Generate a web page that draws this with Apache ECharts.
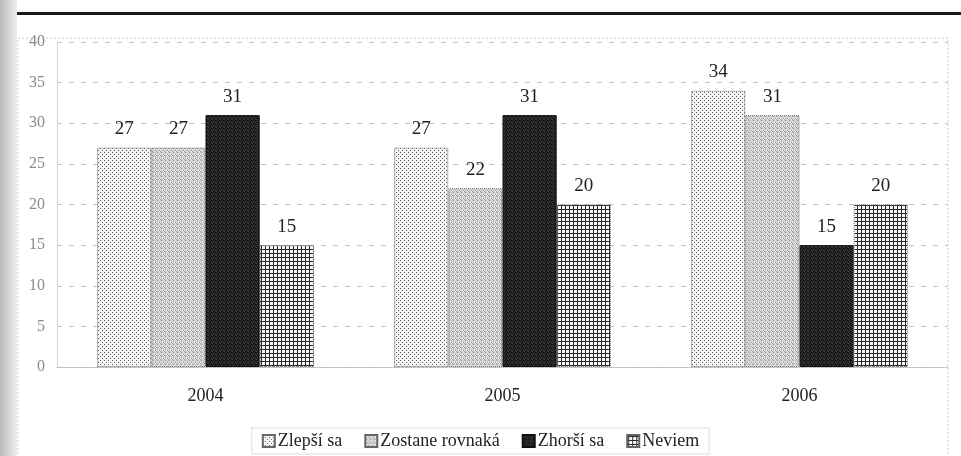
<!DOCTYPE html>
<html>
<head>
<meta charset="utf-8">
<script src="https://cdn.jsdelivr.net/npm/echarts@6/dist/echarts.min.js"></script>
<style>
  html, body { margin: 0; padding: 0; background: #fff; }
  #chart { width: 961px; height: 456px; }
</style>
</head>
<body>
<div id="chart"></div>
<script>
const years = ['2004', '2005', '2006'];
const seriesNames = ['Zlepší sa', 'Zostane rovnaká', 'Zhorší sa', 'Neviem'];
const zlepsi = [27, 27, 34];
const zostane = [27, 22, 31];
const zhorsi = [31, 31, 15];
const neviem = [15, 20, 20];
const yTicks = [0, 5, 10, 15, 20, 25, 30, 35, 40];

// small canvas tiles that imitate the printed hatch fills
function tile(size, draw) {
  const c = document.createElement('canvas');
  c.width = size;
  c.height = size;
  draw(c.getContext('2d'));
  return {image: c, repeat: 'repeat'};
}

const dotFill = tile(4, ctx => {
  ctx.fillStyle = '#f6f6f6';
  ctx.fillRect(0, 0, 4, 4);
  ctx.fillStyle = '#5a5a5a';
  ctx.fillRect(0, 0, 1, 1);
  ctx.fillRect(2, 2, 1, 1);
});

const grayFill = tile(4, ctx => {
  ctx.fillStyle = '#cfcfcf';
  ctx.fillRect(0, 0, 4, 4);
  ctx.fillStyle = '#9a9a9a';
  ctx.fillRect(1, 0, 1, 1);
  ctx.fillRect(3, 2, 1, 1);
  ctx.fillRect(0, 3, 1, 1);
  ctx.fillStyle = '#f0f0f0';
  ctx.fillRect(2, 1, 1, 1);
  ctx.fillRect(0, 2, 1, 1);
  ctx.fillRect(3, 3, 1, 1);
});

const darkFill = tile(4, ctx => {
  ctx.fillStyle = '#1c1c1c';
  ctx.fillRect(0, 0, 4, 4);
  ctx.fillStyle = '#4a4a4a';
  ctx.fillRect(1, 1, 1, 1);
  ctx.fillRect(3, 2, 1, 1);
  ctx.fillRect(0, 3, 1, 1);
});

const gridFill = tile(4, ctx => {
  ctx.fillStyle = '#fafafa';
  ctx.fillRect(0, 0, 4, 4);
  ctx.fillStyle = '#2a2a2a';
  ctx.fillRect(0, 1, 4, 1);
  ctx.fillRect(1, 0, 1, 4);
});

const fills = [dotFill, grayFill, darkFill, gridFill];
const values = [zlepsi, zostane, zhorsi, neviem];
const serif = '"Liberation Serif", "DejaVu Serif", serif';

const chart = echarts.init(document.getElementById('chart'));

chart.setOption({
  backgroundColor: '#fff',
  animation: false,
  textStyle: {fontFamily: serif},
  graphic: [
    // page rule from the scan
    {type: 'rect', shape: {x: 0, y: 12, width: 961, height: 3}, style: {fill: '#1a1a1a'}, silent: true},
    // halftone strip on the left edge
    {type: 'rect', shape: {x: 0, y: 0, width: 17, height: 456},
      style: {fill: {type: 'linear', x: 0, y: 0, x2: 1, y2: 0,
        colorStops: [{offset: 0, color: '#b8b8b8'}, {offset: 1, color: '#f0f0f0'}]}}, silent: true},
    // chart area frame
    {type: 'rect', shape: {x: 18, y: 38, width: 930, height: 440},
      style: {fill: 'none', stroke: '#cacaca', lineWidth: 1, lineDash: [2, 2]}, silent: true}
  ],
  grid: {left: 57, right: 13, top: 42, bottom: 89},
  legend: {
    data: seriesNames,
    icon: 'rect',
    left: 'center',
    top: 428,
    itemWidth: 12,
    itemHeight: 12,
    itemGap: 22,
    padding: [4, 10],
    borderColor: '#bbb',
    borderWidth: 1,
    borderType: 'dotted',
    textStyle: {fontFamily: serif, fontSize: 18, color: '#222', padding: [0, 0, 0, -2]}
  },
  xAxis: {
    type: 'category',
    data: years,
    axisTick: {show: false},
    axisLine: {lineStyle: {color: '#bbb', type: 'dotted'}},
    axisLabel: {fontFamily: serif, fontSize: 18, color: '#222', margin: 20}
  },
  yAxis: {
    type: 'value',
    min: yTicks[0],
    max: yTicks[yTicks.length - 1],
    interval: 5,
    axisLine: {show: true, lineStyle: {color: '#ccc', type: 'dotted'}},
    axisTick: {show: false},
    axisLabel: {fontFamily: serif, fontSize: 16, color: '#8a8a8a', margin: 12},
    splitLine: {lineStyle: {color: '#c4c4c4', type: [5, 7], width: 1}}
  },
  series: seriesNames.map((name, i) => ({
    name: name,
    type: 'bar',
    data: values[i],
    barGap: '0%',
    barCategoryGap: '27%',
    itemStyle: {
      color: fills[i],
      borderColor: i === 2 ? '#111' : '#666',
      borderWidth: 1,
      borderType: i === 2 ? 'solid' : 'dotted'
    },
    label: {
      show: true,
      position: 'top',
      distance: 9,
      fontFamily: serif,
      fontSize: 19,
      color: '#222'
    }
  }))
});
</script>
</body>
</html>
